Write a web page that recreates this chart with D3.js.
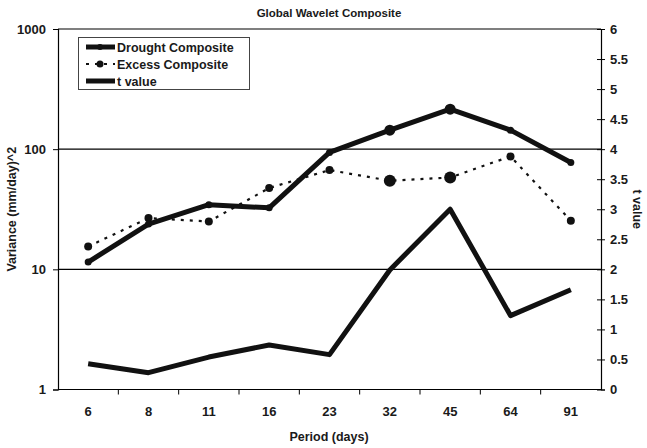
<!DOCTYPE html>
<html><head><meta charset="utf-8">
<script src="https://cdn.jsdelivr.net/npm/d3@7"></script>
<style>
body{margin:0;background:#fff;}
text{font-family:"Liberation Sans",Arial,sans-serif;font-weight:bold;fill:#1a1a1a;}
</style></head>
<body><svg id="c" width="647" height="448"></svg>
<script>
const periods = ["6","8","11","16","23","32","45","64","91"];
const drought = [11.5, 23.8, 34.5, 32.5, 94, 144, 215, 144, 77.5];
const excess  = [15.5, 26.7, 25.0, 47.5, 67, 54.6, 58.1, 87, 25.4];
const tValue  = [0.43, 0.28, 0.54, 0.74, 0.58, 1.99, 3.0, 1.23, 1.66];
const leftTicks = [1, 10, 100, 1000];
const rightTicks = [0,0.5,1,1.5,2,2.5,3,3.5,4,4.5,5,5.5,6];
const seriesNames = ["Drought Composite","Excess Composite","t value"];

const svg = d3.select("#c");
const L = 58, R = 601, T = 29, B = 389.5;
const x = d3.scaleBand().domain(periods).range([L, R]);
const yL = d3.scaleLog().domain([1, 1000]).range([B, T]);
const yR = d3.scaleLinear().domain([0, 6]).range([B, T]);
const cx = d => x(d) + x.bandwidth()/2;

svg.append("text").attr("x", 329).attr("y", 17).attr("text-anchor","middle")
  .style("font-size","11.5px").text("Global Wavelet Composite");

// gridlines
svg.append("g").selectAll("line").data(leftTicks.filter(v => v > 1 && v < 1000)).join("line")
  .attr("x1", L).attr("x2", R).attr("y1", d => yL(d)).attr("y2", d => yL(d))
  .attr("stroke","#000").attr("stroke-width",1.2);
svg.append("line").attr("x1",L).attr("x2",R).attr("y1",T).attr("y2",T).attr("stroke","#000").attr("stroke-width",1.2);

const gl = svg.append("g").attr("transform",`translate(${L},0)`)
  .call(d3.axisLeft(yL).tickValues(leftTicks).tickFormat(d3.format("d")).tickSize(5).tickPadding(7));
const gr = svg.append("g").attr("transform",`translate(${R},0)`)
  .call(d3.axisRight(yR).tickValues(rightTicks).tickFormat(d => String(d)).tickSize(4).tickPadding(5));
gr.selectAll(".tick line").attr("x1",-4);
const gb = svg.append("g").attr("transform",`translate(0,${B})`)
  .call(d3.axisBottom(x).tickSize(0).tickPadding(17));
gb.append("g").selectAll("line").data(periods.slice(1)).join("line")
  .attr("x1", d => x(d)).attr("x2", d => x(d)).attr("y1",0).attr("y2",5).attr("stroke","#000");
[gl,gr,gb].forEach(g => {
  g.selectAll(".domain").attr("stroke","#000").attr("stroke-width",1.2);
  g.selectAll(".tick line").attr("stroke","#000");
  g.selectAll("text").style("font-size","13px").style("font-family","'Liberation Sans',Arial,sans-serif").style("font-weight","bold").attr("fill","#1a1a1a");
});
gb.select(".domain").attr("d", `M${L},0H${R}`);

svg.append("text").attr("transform",`translate(16,${(T+B)/2}) rotate(-90)`).attr("text-anchor","middle")
  .style("font-size","12.5px").text("Variance (mm/day)^2");
svg.append("text").attr("transform",`translate(633,${(T+B)/2}) rotate(90)`).attr("text-anchor","middle")
  .style("font-size","12.5px").text("t value");
svg.append("text").attr("x", 329).attr("y", 441).attr("text-anchor","middle")
  .style("font-size","12.5px").text("Period (days)");

const lineL = d3.line().x((d,i) => cx(periods[i])).y(d => yL(d));
const lineR = d3.line().x((d,i) => cx(periods[i])).y(d => yR(d));
const big = new Set(["32","45"]);

svg.append("path").attr("d", lineL(excess)).attr("fill","none").attr("stroke","#111")
  .attr("stroke-width",2.2).attr("stroke-dasharray","3,6");
svg.append("g").selectAll("circle").data(excess).join("circle")
  .attr("cx",(d,i)=>cx(periods[i])).attr("cy",d=>yL(d)).attr("r",(d,i)=>big.has(periods[i])?6:4).attr("fill","#111");

svg.append("path").attr("d", lineL(drought)).attr("fill","none").attr("stroke","#111")
  .attr("stroke-width",5).attr("stroke-linejoin","round");
svg.append("g").selectAll("circle").data(drought).join("circle")
  .attr("cx",(d,i)=>cx(periods[i])).attr("cy",d=>yL(d)).attr("r",(d,i)=>big.has(periods[i])?5.5:3.5).attr("fill","#111");

svg.append("path").attr("d", lineR(tValue)).attr("fill","none").attr("stroke","#111")
  .attr("stroke-width",5).attr("stroke-linejoin","round");

const lg = svg.append("g");
lg.append("rect").attr("x",78.5).attr("y",37.5).attr("width",171).attr("height",52)
  .attr("fill","#fff").attr("stroke","#444").attr("stroke-width",1);
const rows = [47, 64, 81];
seriesNames.forEach((n,i) => {
  const yy = rows[i];
  if (i === 1) {
    lg.append("line").attr("x1",86).attr("x2",115).attr("y1",yy).attr("y2",yy)
      .attr("stroke","#111").attr("stroke-width",2.2).attr("stroke-dasharray","3,6");
    lg.append("circle").attr("cx",100).attr("cy",yy).attr("r",3.5).attr("fill","#111");
  } else {
    lg.append("line").attr("x1",86).attr("x2",115).attr("y1",yy).attr("y2",yy)
      .attr("stroke","#111").attr("stroke-width",5);
    if (i === 0) lg.append("circle").attr("cx",100).attr("cy",yy).attr("r",3).attr("fill","#111");
  }
  lg.append("text").attr("x",117).attr("y",yy+4.5).style("font-size","12.5px").text(n);
});
</script></body></html>
